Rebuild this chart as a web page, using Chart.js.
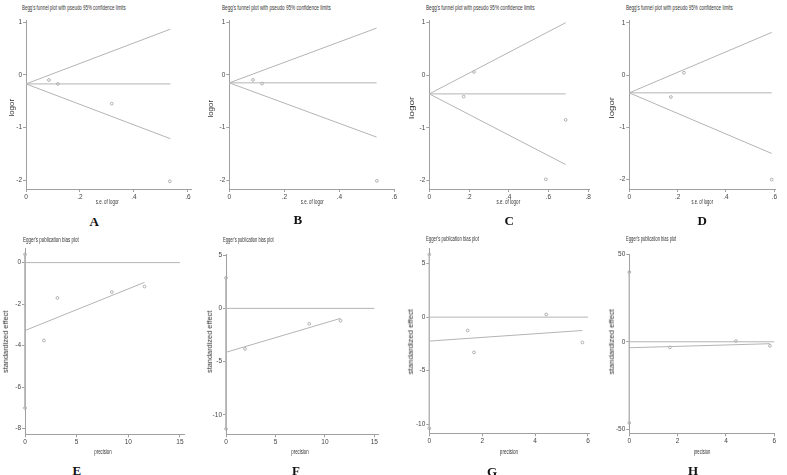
<!DOCTYPE html>
<html><head><meta charset="utf-8">
<script src="https://cdn.jsdelivr.net/npm/chart.js@4"></script>
<style>
html,body{margin:0;padding:0;background:#fff;}
#wrap{position:relative;width:787px;height:475px;overflow:hidden;background:#fff;}
canvas{position:absolute;}
.t{position:absolute;white-space:nowrap;font-family:'Liberation Sans',Arial,sans-serif;color:#333;line-height:1;}
.L{position:absolute;white-space:nowrap;font-family:'Liberation Serif','Times New Roman',serif;font-weight:bold;font-size:13px;color:#111;line-height:1;}
</style></head><body><div id="wrap"></div>
<script>
// ---------- Begg's funnel plots (A-D): s.e. of logor vs logor ----------
const aSe = [0.085, 0.118, 0.318, 0.533];
const aLogor = [-0.095, -0.17, -0.545, -2.02];
const aPooled = -0.17, aLimitSe = 0.535, aUpper = 0.87, aLower = -1.21;

const bSe = [0.086, 0.119, 0.536];
const bLogor = [-0.095, -0.165, -2.01];
const bPooled = -0.15, bLimitSe = 0.535, bUpper = 0.89, bLower = -1.18;

const cSe = [0.225, 0.173, 0.687, 0.587];
const cLogor = [0.063, -0.407, -0.85, -1.98];
const cPooled = -0.355, cLimitSe = 0.687, cUpper = 1.0, cLower = -1.70;

const dSe = [0.226, 0.172, 0.589];
const dLogor = [0.044, -0.42, -2.0];
const dPooled = -0.34, dLimitSe = 0.589, dUpper = 0.816, dLower = -1.50;

// ---------- Egger's plots (E-H): precision vs standardized effect ----------
const ePrecision = [1.83, 3.14, 8.4, 11.57];
const eEffect = [-3.75, -1.7, -1.42, -1.15];
const eInterceptCI = [0.4, -7.0];
const eFitX = [0, 11.57], eFitY = [-3.27, -0.95], eZeroX = [0, 15];

const fPrecision = [1.92, 8.42, 11.58];
const fEffect = [-3.8, -1.45, -1.16];
const fInterceptCI = [2.86, -11.3];
const fFitX = [0, 11.58], fFitY = [-4.12, -0.94], fZeroX = [0, 15];

const gPrecision = [1.45, 1.69, 4.42, 5.79];
const gEffect = [-1.25, -3.3, 0.25, -2.37];
const gInterceptCI = [5.86, -10.4];
const gFitX = [0, 5.79], gFitY = [-2.24, -1.25], gZeroX = [0, 6];

const hPrecision = [1.68, 4.41, 5.82];
const hEffect = [-3.2, 0.4, -2.3];
const hInterceptCI = [39.8, -46.3];
const hFitX = [0, 5.82], hFitY = [-3.4, -1.1], hZeroX = [0, 6];

// ---------- tick values / labels ----------
const seTicks4 = [0, 0.2, 0.4, 0.6], seLabels4 = ['0', '.2', '.4', '.6'];
const seTicks5 = [0, 0.2, 0.4, 0.6, 0.8], seLabels5 = ['0', '.2', '.4', '.6', '.8'];
const logorTicks = [1, 0, -1, -2], logorLabels = ['1', '0', '-1', '-2'];
const precTicks15 = [0, 5, 10, 15], precLabels15 = ['0', '5', '10', '15'];
const precTicks6 = [0, 2, 4, 6], precLabels6 = ['0', '2', '4', '6'];
const eYTicks = [0, -2, -4, -6, -8], eYLabels = ['0', '-2', '-4', '-6', '-8'];
const fgYTicks = [5, 0, -5, -10], fgYLabels = ['5', '0', '-5', '-10'];
const hYTicks = [50, 0, -50], hYLabels = ['50', '0', '-50'];

const wrap = document.getElementById('wrap');
const LINE = '#b4b4b4', AXIS = '#a0a0a0', MARK = '#a0a0a0';

function pts(xs, ys) { return xs.map((x, i) => ({x: x, y: ys[i]})); }
function lineDs(data) { return {data: data, showLine: true, pointRadius: 0, borderColor: LINE, borderWidth: 1, fill: false, clip: false}; }
function ptDs(data) { return {data: data, showLine: false, pointRadius: 1.4, pointStyle: 'circle', borderColor: MARK, backgroundColor: 'rgba(0,0,0,0)', borderWidth: 0.8, clip: false}; }

function makeChart(geo, xAx, yAx, datasets) {
  const L = Math.floor(geo.cl - 24), T = Math.floor(geo.ct - 8);
  const R = Math.ceil(geo.cr + 10), B = Math.ceil(geo.cb + 15);
  const cv = document.createElement('canvas');
  cv.width = R - L; cv.height = B - T;
  cv.style.left = L + 'px'; cv.style.top = T + 'px';
  cv.style.width = (R - L) + 'px'; cv.style.height = (B - T) + 'px';
  wrap.appendChild(cv);
  const axisOpts = (ax, fit) => ({
    type: 'linear', min: ax.min, max: ax.max,
    afterBuildTicks: s => { s.ticks = ax.ticks.map(v => ({value: v})); },
    afterFit: fit,
    grid: {display: true, drawOnChartArea: false, drawTicks: true, tickLength: 3, color: AXIS, lineWidth: 1},
    border: {display: true, color: AXIS, width: 1},
    ticks: {autoSkip: false, maxRotation: 0, minRotation: 0, padding: 1, color: '#444',
      font: {family: 'Liberation Sans', size: 6.5}, callback: (v, i) => ax.labels[i]}
  });
  new Chart(cv, {
    type: 'scatter',
    data: {datasets: datasets},
    options: {
      responsive: false, animation: false, devicePixelRatio: 1,
      layout: {padding: {left: 0, top: geo.ct - T, right: R - geo.cr, bottom: 0}},
      plugins: {legend: {display: false}, tooltip: {enabled: false}, title: {display: false}},
      scales: {
        x: axisOpts(xAx, s => { s.height = B - geo.cb; }),
        y: axisOpts(yAx, s => { s.width = geo.cl - L; })
      }
    }
  });
}

function begg(geo, xmax, xt, xl, ymax, ymin, se, lo, pooled, lim, up, low) {
  makeChart(geo,
    {min: 0, max: xmax, ticks: xt, labels: xl},
    {min: ymin, max: ymax, ticks: logorTicks, labels: logorLabels},
    [lineDs(pts([0, lim], [pooled, up])), lineDs(pts([0, lim], [pooled, low])),
     lineDs(pts([0, lim], [pooled, pooled])), ptDs(pts(se, lo))]);
}
function egger(geo, xmax, xt, xl, ymax, ymin, yt, yl, px, ef, ci, fx, fy, zx) {
  makeChart(geo,
    {min: 0, max: xmax, ticks: xt, labels: xl},
    {min: ymin, max: ymax, ticks: yt, labels: yl},
    [lineDs(pts(zx, [0, 0])), lineDs(pts(fx, fy)), lineDs(pts([0, 0], ci)),
     ptDs(pts([0, 0], ci)), ptDs(pts(px, ef))]);
}

begg({cl: 26, cr: 191.7, ct: 20.7, cb: 189}, 0.614, seTicks4, seLabels4, 1.03, -2.165, aSe, aLogor, aPooled, aLimitSe, aUpper, aLower);
begg({cl: 229.3, cr: 394.5, ct: 20.7, cb: 189}, 0.6, seTicks4, seLabels4, 1.03, -2.165, bSe, bLogor, bPooled, bLimitSe, bUpper, bLower);
begg({cl: 429.3, cr: 589.3, ct: 20.7, cb: 189}, 0.806, seTicks5, seLabels5, 1.038, -2.165, cSe, cLogor, cPooled, cLimitSe, cUpper, cLower);
begg({cl: 629.3, cr: 775.3, ct: 20.7, cb: 189}, 0.604, seTicks4, seLabels4, 1.04, -2.18, dSe, dLogor, dPooled, dLimitSe, dUpper, dLower);

egger({cl: 25, cr: 184.3, ct: 248.3, cb: 434.3}, 15.42, precTicks15, precLabels15, 0.69, -8.27, eYTicks, eYLabels, ePrecision, eEffect, eInterceptCI, eFitX, eFitY, eZeroX);
egger({cl: 226, cr: 378.3, ct: 254.3, cb: 434.3}, 15.4, precTicks15, precLabels15, 5.07, -11.81, fgYTicks, fgYLabels, fPrecision, fEffect, fInterceptCI, fFitX, fFitY, fZeroX);
egger({cl: 429.3, cr: 589.3, ct: 248.3, cb: 433.3}, 6.05, precTicks6, precLabels6, 6.44, -10.87, fgYTicks, fgYLabels, gPrecision, gEffect, gInterceptCI, gFitX, gFitY, gZeroX);
egger({cl: 629.3, cr: 774.3, ct: 254.3, cb: 433.3}, 6.0, precTicks6, precLabels6, 50, -52.3, hYTicks, hYLabels, hPrecision, hEffect, hInterceptCI, hFitX, hFitY, hZeroX);

// ---------- text ----------
function addText(txt, x, y, len, size, rot, left) {
  const s = document.createElement('span');
  s.className = 't'; s.textContent = txt; s.style.fontSize = size + 'px';
  wrap.appendChild(s);
  const w = s.offsetWidth, h = s.offsetHeight, k = len / w;
  if (left) {
    s.style.left = x + 'px'; s.style.top = (y - h / 2) + 'px';
    s.style.transformOrigin = 'left center'; s.style.transform = 'scaleX(' + k + ')';
  } else {
    s.style.left = (x - w / 2) + 'px'; s.style.top = (y - h / 2) + 'px';
    s.style.transform = 'rotate(' + rot + 'deg) scaleX(' + k + ')';
  }
}
function addLetter(txt, x, y) {
  const s = document.createElement('span');
  s.className = 'L'; s.textContent = txt; wrap.appendChild(s);
  s.style.left = (x - s.offsetWidth / 2) + 'px'; s.style.top = (y - s.offsetHeight / 2) + 'px';
}
const beggTitle = "Begg's funnel plot with pseudo 95% confidence limits";
const eggerTitle = "Egger's publication bias plot";
[[22, 104], [221.7, 109], [425.7, 108.7], [625.7, 107]].forEach(p => addText(beggTitle, p[0], 8.3, p[1], 6.5, 0, true));
[[22.7, 240, 56], [222.7, 240, 50.7], [425.7, 239.5, 53], [625.7, 239.5, 50.3]].forEach(p => addText(eggerTitle, p[0], p[1], p[2], 6.5, 0, true));
[[107.7, 23.3], [312.7, 23.3], [508.7, 24], [702, 21.7]].forEach(p => addText('s.e. of logor', p[0], 201.7, p[1], 7, 0, false));
[[103, 17.4], [300.3, 17.3], [509, 18.3], [702.3, 16.7]].forEach(p => addText('precision', p[0], 451.5, p[1], 7, 0, false));
[[11, 108.3, 18], [210, 109, 18], [411.7, 108, 22.7], [611.7, 107.5, 21.7]].forEach(p => addText('logor', p[0], p[1], p[2], 7.5, -90, false));
[[5.3, 62], [209, 62], [410.7, 65], [611.7, 65]].forEach(p => addText('standardized effect', p[0], 342, p[1], 7.5, -90, false));
[['A', 94, 221], ['B', 298, 219.5], ['C', 509, 220], ['D', 702, 220.5], ['E', 77, 470], ['F', 296, 470], ['G', 492, 471], ['H', 693, 470]].forEach(p => addLetter(p[0], p[1], p[2]));
</script></body></html>
